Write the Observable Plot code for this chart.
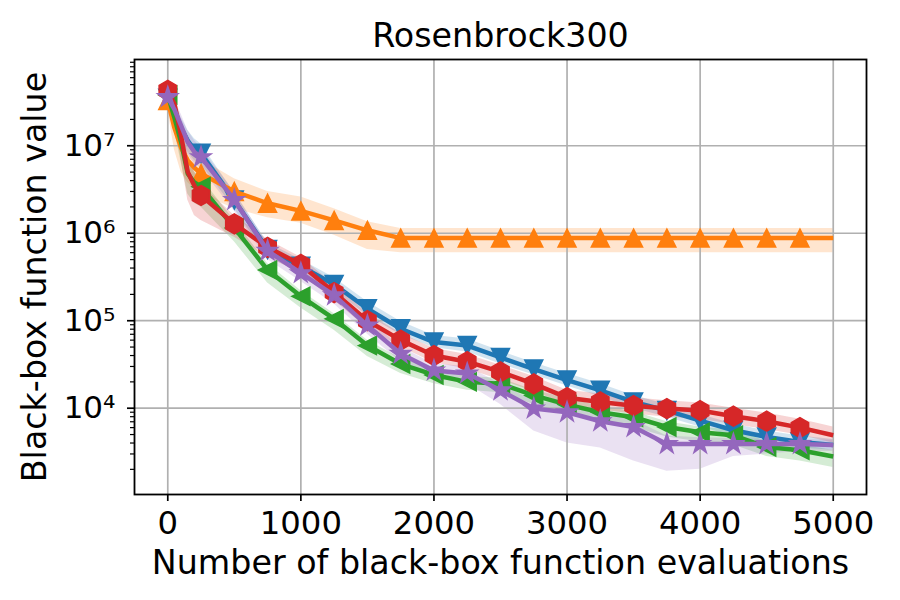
<!DOCTYPE html>
<html>
<head>
<meta charset="utf-8">
<script src="https://cdn.jsdelivr.net/npm/d3@7"></script>
<script src="https://cdn.jsdelivr.net/npm/@observablehq/plot@0.6"></script>
<style>
  html, body { margin: 0; padding: 0; background: #ffffff; }
  #chart svg { display: block; }
</style>
</head>
<body>
<div id="chart"></div>
<script>
// ---------- data ----------
const titleText = "Rosenbrock300";
const xLabelText = "Number of black-box function evaluations";
const yLabelText = "Black-box function value";

const evaluations = [0, 50, 100, 150, 200, 250, 500, 750, 1000, 1250, 1500, 1750, 2000, 2250, 2500, 2750, 3000, 3250, 3500, 3750, 4000, 4250, 4500, 4750, 5000];

const blueMedian = [3.5e7, 2.6e7, 1.6e7, 1.15e7, 9.0e6, 8.2e6, 2.4e6, 6.5e5, 4.2e5, 2.6e5, 1.37e5, 8.1e4, 5.7e4, 5.2e4, 3.8e4, 2.8e4, 2.1e4, 1.6e4, 1.18e4, 9.4e3, 7.2e3, 5.6e3, 4.7e3, 4.1e3, 3.8e3];
const blueLow    = [3.0e7, 2.0e7, 1.2e7, 8.5e6, 6.8e6, 6.2e6, 1.9e6, 5.4e5, 3.5e5, 2.2e5, 1.15e5, 6.9e4, 4.9e4, 4.4e4, 3.2e4, 2.4e4, 1.8e4, 1.35e4, 1.0e4, 7.9e3, 6.1e3, 4.8e3, 4.0e3, 3.5e3, 3.3e3];
const blueHigh   = [4.2e7, 3.3e7, 2.1e7, 1.5e7, 1.2e7, 1.05e7, 2.9e6, 7.8e5, 5.0e5, 3.1e5, 1.65e5, 9.8e4, 6.8e4, 6.2e4, 4.5e4, 3.3e4, 2.5e4, 1.9e4, 1.4e4, 1.1e4, 8.5e3, 6.6e3, 5.5e3, 4.8e3, 4.4e3];

const orangeMedian = [3.3e7, 1.6e7, 9.5e6, 6.8e6, 5.6e6, 4.8e6, 3.0e6, 2.2e6, 1.8e6, 1.4e6, 1.08e6, 8.8e5, 8.8e5, 8.8e5, 8.8e5, 8.8e5, 8.8e5, 8.8e5, 8.8e5, 8.8e5, 8.8e5, 8.8e5, 8.8e5, 8.8e5, 8.8e5];
const orangeLow    = [2.6e7, 9.0e6, 5.0e6, 3.8e6, 3.2e6, 2.8e6, 1.9e6, 1.5e6, 1.3e6, 9.5e5, 6.5e5, 6.0e5, 6.0e5, 6.0e5, 6.0e5, 6.0e5, 6.0e5, 6.0e5, 6.0e5, 6.0e5, 6.0e5, 6.0e5, 6.0e5, 6.0e5, 6.0e5];
const orangeHigh   = [4.2e7, 2.6e7, 1.6e7, 1.1e7, 8.5e6, 7.0e6, 4.2e6, 3.0e6, 2.6e6, 1.9e6, 1.35e6, 1.13e6, 1.13e6, 1.13e6, 1.13e6, 1.13e6, 1.13e6, 1.13e6, 1.13e6, 1.13e6, 1.13e6, 1.13e6, 1.13e6, 1.13e6, 1.13e6];

const greenMedian = [3.8e7, 2.1e7, 1.1e7, 4.8e6, 3.8e6, 3.4e6, 1.15e6, 3.8e5, 1.9e5, 1.05e5, 5.2e4, 3.2e4, 2.4e4, 2.0e4, 1.9e4, 1.4e4, 1.1e4, 9.0e3, 7.9e3, 6.1e3, 5.3e3, 4.9e3, 3.6e3, 3.3e3, 2.8e3];
const greenLow    = [3.2e7, 1.5e7, 6.5e6, 2.8e6, 2.2e6, 2.0e6, 8.0e5, 2.7e5, 1.4e5, 7.8e4, 3.9e4, 2.5e4, 1.9e4, 1.6e4, 1.5e4, 1.1e4, 8.5e3, 6.8e3, 6.0e3, 4.7e3, 4.1e3, 3.8e3, 2.8e3, 2.5e3, 2.1e3];
const greenHigh   = [4.4e7, 2.8e7, 1.5e7, 7.0e6, 5.0e6, 4.3e6, 1.4e6, 4.5e5, 2.2e5, 1.2e5, 6.0e4, 3.7e4, 2.8e4, 2.3e4, 2.2e4, 1.6e4, 1.3e4, 1.05e4, 9.2e3, 7.0e3, 6.1e3, 5.6e3, 4.2e3, 3.8e3, 3.3e3];

const redMedian = [4.3e7, 3.0e7, 1.3e7, 5.0e6, 3.5e6, 2.7e6, 1.28e6, 6.9e5, 4.4e5, 2.1e5, 1.0e5, 6.0e4, 4.0e4, 3.4e4, 2.6e4, 1.9e4, 1.32e4, 1.18e4, 1.07e4, 9.9e3, 9.4e3, 8.1e3, 7.1e3, 6.0e3, 4.9e3];
const redLow    = [3.6e7, 2.0e7, 7.0e6, 2.4e6, 1.6e6, 1.4e6, 9.0e5, 5.3e5, 3.5e5, 1.7e5, 8.2e4, 5.0e4, 3.3e4, 2.8e4, 2.1e4, 1.55e4, 1.1e4, 9.6e3, 8.6e3, 7.9e3, 7.5e3, 6.5e3, 5.7e3, 4.9e3, 4.0e3];
const redHigh   = [5.0e7, 4.0e7, 2.0e7, 8.0e6, 5.0e6, 3.6e6, 1.6e6, 8.5e5, 5.3e5, 2.6e5, 1.22e5, 7.2e4, 4.8e4, 4.1e4, 3.1e4, 2.3e4, 1.6e4, 1.45e4, 1.32e4, 1.22e4, 1.15e4, 1.0e4, 8.8e3, 7.5e3, 6.1e3];

const purpleMedian = [3.6e7, 2.6e7, 1.7e7, 1.1e7, 8.5e6, 7.4e6, 2.4e6, 6.3e5, 3.5e5, 1.95e5, 8.8e4, 4.2e4, 2.7e4, 2.5e4, 1.6e4, 9.9e3, 9.0e3, 7.1e3, 6.1e3, 3.9e3, 3.9e3, 3.9e3, 3.9e3, 3.9e3, 3.8e3];
const purpleLow    = [3.0e7, 2.0e7, 1.2e7, 8.0e6, 6.2e6, 5.5e6, 1.8e6, 5.0e5, 2.8e5, 1.55e5, 7.0e4, 3.4e4, 2.2e4, 1.9e4, 1.1e4, 5.5e3, 4.0e3, 3.5e3, 2.5e3, 1.9e3, 2.0e3, 2.8e3, 3.0e3, 3.2e3, 3.2e3];
const purpleHigh   = [4.2e7, 3.4e7, 2.3e7, 1.5e7, 1.15e7, 9.5e6, 3.0e6, 7.6e5, 4.2e5, 2.3e5, 1.05e5, 5.0e4, 3.2e4, 3.0e4, 1.9e4, 1.2e4, 1.1e4, 8.6e3, 7.4e3, 4.8e3, 4.6e3, 4.5e3, 4.4e3, 4.4e3, 4.3e3];

const seriesColors  = ["#1f77b4", "#ff7f0e", "#2ca02c", "#d62728", "#9467bd"];
const seriesMarkers = ["triangleDown", "triangleUp", "triangleLeft", "hexagon", "star"];
const xTickValues = [0, 1000, 2000, 3000, 4000, 5000];
const yTickValues = [1e4, 1e5, 1e6, 1e7];
const markerEvery = 250;

// ---------- build ----------
const medians = [blueMedian, orangeMedian, greenMedian, redMedian, purpleMedian];
const lows    = [blueLow, orangeLow, greenLow, redLow, purpleLow];
const highs   = [blueHigh, orangeHigh, greenHigh, redHigh, purpleHigh];

const series = medians.map((m, k) => evaluations.map((x, i) => ({x, y: m[i], lo: lows[k][i], hi: highs[k][i]})));

function makeSymbol(kind) {
  return {
    draw(ctx, size) {
      const r = Math.sqrt(size / Math.PI);
      if (kind === "triangleUp") {
        ctx.moveTo(0, -r); ctx.lineTo(r, r); ctx.lineTo(-r, r);
      } else if (kind === "triangleDown") {
        ctx.moveTo(0, r); ctx.lineTo(-r, -r); ctx.lineTo(r, -r);
      } else if (kind === "triangleLeft") {
        ctx.moveTo(-r, 0); ctx.lineTo(r, -r); ctx.lineTo(r, r);
      } else if (kind === "hexagon") {
        for (let i = 0; i < 6; i++) {
          const a = -Math.PI / 2 + i * Math.PI / 3;
          if (i === 0) ctx.moveTo(r * Math.cos(a), r * Math.sin(a));
          else ctx.lineTo(r * Math.cos(a), r * Math.sin(a));
        }
      } else if (kind === "star") {
        for (let i = 0; i < 10; i++) {
          const a = -Math.PI / 2 + i * Math.PI / 5;
          const rr = i % 2 === 0 ? r : r * 0.381966;
          if (i === 0) ctx.moveTo(rr * Math.cos(a), rr * Math.sin(a));
          else ctx.lineTo(rr * Math.cos(a), rr * Math.sin(a));
        }
      }
      ctx.closePath();
    }
  };
}
const markerRadius = {triangleUp: 9, triangleDown: 9, triangleLeft: 9, hexagon: 10, star: 10.5};

const yDomain = [1032, 9.68e7];
const minorTicks = d3.scaleLog().domain(yDomain).ticks().filter(v => Math.abs(Math.log10(v) - Math.round(Math.log10(v))) > 1e-9);

const sup = {"0":"⁰","1":"¹","2":"²","3":"³","4":"⁴","5":"⁵","6":"⁶","7":"⁷","8":"⁸","9":"⁹","-":"⁻"};
const fmtPow = v => "10" + String(Math.round(Math.log10(v))).split("").map(c => sup[c]).join("");

const bandMarks = series.map((s, k) => Plot.areaY(s, {x: "x", y1: "lo", y2: "hi", fill: seriesColors[k], fillOpacity: 0.2}));
const lineMarks = series.flatMap((s, k) => [
  Plot.line(s, {x: "x", y: "y", stroke: seriesColors[k], strokeWidth: 4.5, strokeLinejoin: "round", strokeLinecap: "butt"}),
  Plot.dot(s.filter(d => d.x % markerEvery === 0 && d.x < 5000), {
    x: "x", y: "y", r: markerRadius[seriesMarkers[k]], symbol: makeSymbol(seriesMarkers[k]),
    fill: seriesColors[k], stroke: seriesColors[k], strokeWidth: 1.5
  })
]);

const chart = Plot.plot({
  width: 900,
  height: 600,
  marginLeft: 134,
  marginRight: 34,
  marginTop: 59,
  marginBottom: 106,
  style: {fontFamily: "DejaVu Sans", background: "#ffffff", color: "#000000", overflow: "visible"},
  x: {domain: [-250, 5250], label: null},
  y: {type: "log", domain: yDomain, label: null},
  marks: [
    ...bandMarks,
    Plot.gridX(xTickValues, {stroke: "#b0b0b0", strokeOpacity: 1, strokeWidth: 1.7}),
    Plot.gridY(yTickValues, {stroke: "#b0b0b0", strokeOpacity: 1, strokeWidth: 1.7}),
    ...lineMarks,
    Plot.frame({stroke: "#000000", strokeWidth: 1.8}),
    Plot.axisX({ticks: xTickValues, tickSize: 7, tickPadding: 10, fontSize: 32.3, tickFormat: d => String(d), stroke: "#000000", strokeWidth: 1.7, label: null}),
    Plot.axisY({ticks: minorTicks, tickSize: 4, tickFormat: () => "", stroke: "#000000", strokeWidth: 1.2, label: null}),
    Plot.axisY({ticks: yTickValues, tickSize: 7, tickPadding: 12, fontSize: 31, tickFormat: fmtPow, stroke: "#000000", strokeWidth: 1.7, label: null}),
    Plot.text([titleText], {frameAnchor: "top", dy: -13, lineAnchor: "bottom", textAnchor: "middle", fontSize: 33.3, fill: "#000000"}),
    Plot.text([xLabelText], {frameAnchor: "bottom", dy: 79, lineAnchor: "bottom", textAnchor: "middle", fontSize: 33.3, fill: "#000000"}),
    Plot.text([yLabelText], {frameAnchor: "left", dx: -89, rotate: -90, lineAnchor: "bottom", textAnchor: "middle", fontSize: 33.3, fill: "#000000"})
  ]
});
document.getElementById("chart").appendChild(chart);
</script>
</body>
</html>
